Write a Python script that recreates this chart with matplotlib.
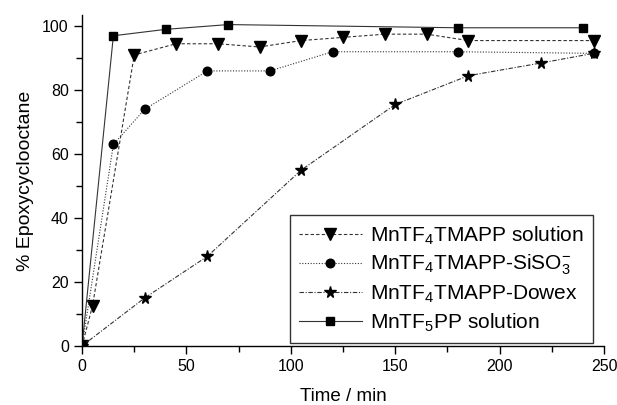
import matplotlib
matplotlib.use("Agg")
import matplotlib.pyplot as plt
from matplotlib.ticker import MultipleLocator

plt.rcParams["font.family"] = ["Liberation Sans", "DejaVu Sans"]
plt.rcParams["mathtext.fontset"] = "custom"
plt.rcParams["mathtext.rm"] = "Liberation Sans"
plt.rcParams["mathtext.it"] = "Liberation Sans"

# ---- data: epoxide yield vs time ----
t_sol = [0, 5, 25, 45, 65, 85, 105, 125, 145, 165, 185, 245]
y_sol = [0, 12.5, 91, 94.5, 94.5, 93.5, 95.5, 96.5, 97.5, 97.5, 95.5, 95.5]

t_si = [0, 15, 30, 60, 90, 120, 180, 245]
y_si = [0, 63, 74, 86, 86, 92, 92, 91.5]

t_dow = [0, 30, 60, 105, 150, 185, 220, 245]
y_dow = [0, 15, 28, 55, 75.5, 84.5, 88.5, 91.5]

t_pp = [0, 15, 40, 70, 180, 240]
y_pp = [0, 97, 99, 100.5, 99.5, 99.5]

labels = [
    r"MnTF$_4$TMAPP solution",
    r"MnTF$_4$TMAPP-SiSO$_3^{-}$",
    r"MnTF$_4$TMAPP-Dowex",
    r"MnTF$_5$PP solution",
]

fig = plt.figure(figsize=(6.17, 4.05), dpi=100)
ax = fig.add_axes([0.133, 0.146, 0.846, 0.817])

lc = "#333333"
ax.plot(t_sol, y_sol, ls=(0, (3, 2)), lw=0.8, color=lc, marker="v",
        ms=8, mfc="black", mec="black", label=labels[0])
ax.plot(t_si, y_si, ls=(0, (1, 1.5)), lw=0.8, color=lc, marker="o",
        ms=6.2, mfc="black", mec="black", label=labels[1])
ax.plot(t_dow, y_dow, ls=(0, (4, 1.5, 1, 1.5)), lw=0.8, color=lc, marker="*",
        ms=8.5, mfc="black", mec="black", label=labels[2])
ax.plot(t_pp, y_pp, ls="-", lw=0.8, color=lc, marker="s",
        ms=5.3, mfc="black", mec="black", label=labels[3])

ax.set_xlim(0, 250)
ax.set_ylim(0, 103.5)
ax.xaxis.set_major_locator(MultipleLocator(50))
ax.xaxis.set_minor_locator(MultipleLocator(25))
ax.yaxis.set_major_locator(MultipleLocator(20))
ax.yaxis.set_minor_locator(MultipleLocator(10))

for side in ["top", "right"]:
    ax.spines[side].set_visible(False)
for side in ["left", "bottom"]:
    ax.spines[side].set_linewidth(1.0)

ax.tick_params(which="major", direction="out", length=6, width=1, labelsize=11.5)
ax.tick_params(which="minor", direction="out", length=4, width=1)

ax.set_xlabel("Time / min", fontsize=13.5, labelpad=10)
ax.set_ylabel("% Epoxycyclooctane", fontsize=14, labelpad=6)

leg = ax.legend(loc="lower right", bbox_to_anchor=(0.979, 0.009),
                borderaxespad=0, fontsize=15, frameon=True, fancybox=False,
                handlelength=3.0, labelspacing=0.3, handletextpad=0.4,
                borderpad=0.45)
leg.get_frame().set_edgecolor("black")
leg.get_frame().set_linewidth(1.0)

fig.savefig("out.png", dpi=100)
